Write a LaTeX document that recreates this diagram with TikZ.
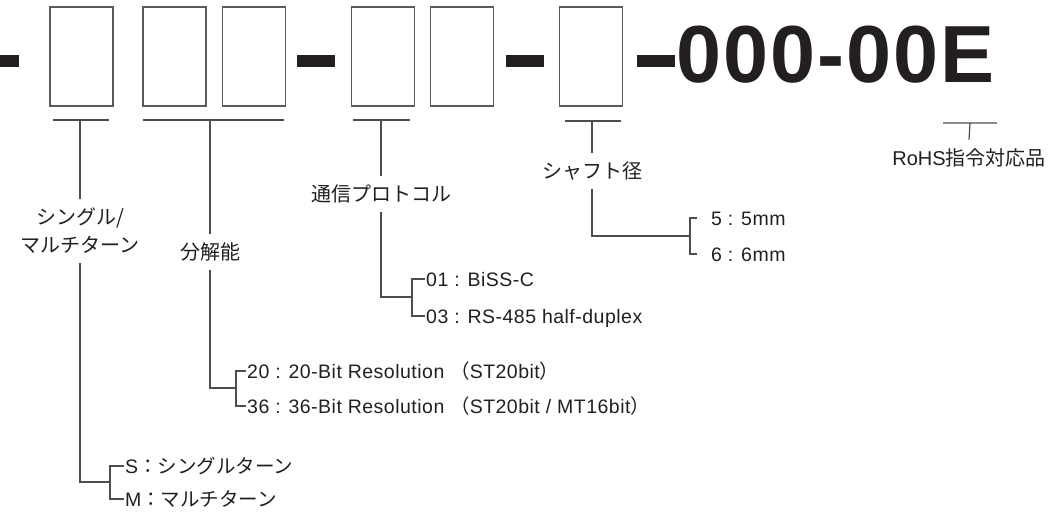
\documentclass[tikz,border=0pt]{standalone}
\usepackage{fontspec}
\setmainfont{Liberation Sans}
\newfontfamily\jpfont{Noto Sans CJK JP}
\newfontfamily\optfont{Liberation Sans}[LetterSpace=2.5]
\newfontfamily\codefont{Liberation Sans}[LetterSpace=2.5]
\newcommand{\jp}[1]{{\jpfont #1}}
\usepackage{xcolor}
\usepackage{tikz}
\definecolor{inkblack}{HTML}{231F20}
\definecolor{linegray}{HTML}{4D4D4D}
\definecolor{boxgray}{HTML}{5A5A5A}
\tikzset{
  digitbox/.style={draw=boxgray, line width=1.3pt, minimum width=63pt, minimum height=99pt, inner sep=0pt},
  lead/.style={draw=linegray, line width=1.2pt},
  catlabel/.style={font=\jpfont\fontsize{20}{28}\selectfont, text=inkblack, align=center, inner xsep=2pt, inner ysep=9pt},
  optlabel/.style={font=\optfont\fontsize{19.5}{24}\selectfont, text=inkblack, anchor=west, inner xsep=1pt, text height=14pt, text depth=0pt},
}

\begin{document}
\begin{tikzpicture}[x=1pt, y=-1pt]
\useasboundingbox[fill=white] (0,0) rectangle (1049,517);

% Code boxes
\node[digitbox] (d1) at (81.5,56.5) {};
\node[digitbox] (d2) at (174.5,56.5) {};
\node[digitbox] (d3) at (254,56.5) {};
\node[digitbox] (d4) at (383,56.5) {};
\node[digitbox] (d5) at (462,56.5) {};
\node[digitbox] (d6) at (591,56.5) {};

% Dashes and fixed suffix
\fill[inkblack] (0,55) rectangle (19,67);
\fill[inkblack] (297,55) rectangle (335,67);
\fill[inkblack] (506,55) rectangle (544,67);
\fill[inkblack] (637,55) rectangle (675,67);
\node[anchor=base west, inner sep=0pt, font=\codefont\bfseries\fontsize{81}{81}\selectfont, text=inkblack] (suffix) at (676,82) {000-00E};

% Category labels
\node[catlabel] (turns) at (80,231) {シングル/\\マルチターン};
\node[catlabel] (resol) at (210,252) {分解能};
\node[catlabel] (proto) at (381,194) {通信プロトコル};
\node[catlabel] (shaft) at (592,171) {シャフト径};
\node[catlabel] (rohs) at (969,158) {{\rmfamily RoHS}指令対応品};

% Options
\node[optlabel] (optS) at (124,466) {S\jp{：シングルターン}};
\node[optlabel] (optM) at (124,499) {M\jp{：マルチターン}};
\node[optlabel] (opt20) at (246,371) {20 : 20-Bit Resolution \jp{（}ST20bit\jp{）}};
\node[optlabel] (opt36) at (246,406) {36 : 36-Bit Resolution \jp{（}ST20bit / MT16bit\jp{）}};
\node[optlabel] (opt01) at (425,279) {01 : BiSS-C};
\node[optlabel] (opt03) at (425,316) {03 : RS-485 half-duplex};
\node[optlabel, inner xsep=14pt] (opt5) at (697,218) {5 : 5mm};
\node[optlabel, inner xsep=14pt] (opt6) at (697,254) {6 : 6mm};

% Brackets under the boxes
\coordinate (t1) at (80,120);
\coordinate (t2) at (210,120);
\coordinate (t3) at (381,120);
\coordinate (t4) at (592,121);
\coordinate (t5) at (970,123);
\draw[lead] ([xshift=-27pt]t1) -- ([xshift=29pt]t1) (t1) -- (turns.north);
\draw[lead] ([xshift=-67pt]t2) -- ([xshift=74pt]t2) (t2) -- (resol.north);
\draw[lead] ([xshift=-28pt]t3) -- ([xshift=29pt]t3) (t3) -- (proto.north);
\draw[lead] ([xshift=-27pt]t4) -- ([xshift=29pt]t4) (t4) -- (shaft.north);
\draw[lead] ([xshift=-27pt]t5) -- ([xshift=27pt]t5) (t5) -- (rohs.north);

% Forks to the options
\coordinate (fkS) at (110,482);
\coordinate (fk20) at (236,388);
\coordinate (fk01) at (412,297);
\coordinate (fk5) at (690,236);
\draw[lead] (turns.south) |- (fkS);
\draw[lead] (optS.west) -| (fkS) |- (optM.west);
\draw[lead] (resol.south) |- (fk20);
\draw[lead] (opt20.west) -| (fk20) |- (opt36.west);
\draw[lead] (proto.south) |- (fk01);
\draw[lead] (opt01.west) -| (fk01) |- (opt03.west);
\draw[lead] (shaft.south) |- (fk5);
\draw[lead] (opt5.west) -| (fk5) |- (opt6.west);
\end{tikzpicture}
\end{document}
